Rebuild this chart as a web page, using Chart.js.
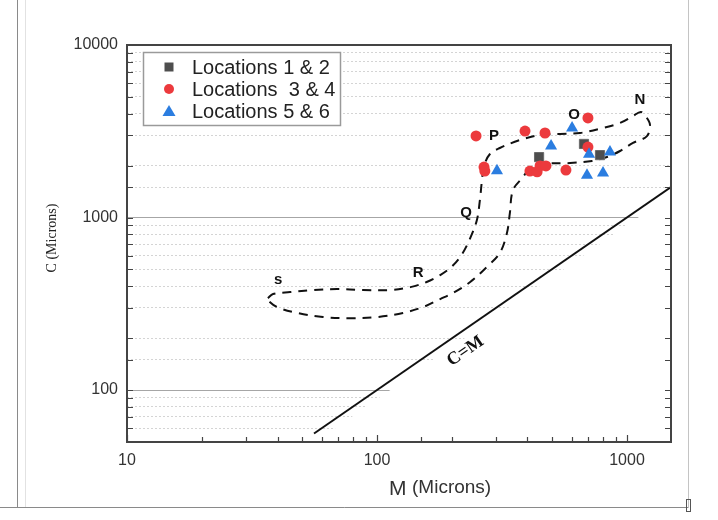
<!DOCTYPE html>
<html>
<head>
<meta charset="utf-8">
<script src="https://cdn.jsdelivr.net/npm/chart.js@4.4.0/dist/chart.umd.min.js"></script>
<style>
html, body { margin: 0; padding: 0; background: #fff; }
</style>
</head>
<body>
<canvas id="myChart" width="718" height="520"></canvas>
<script>
// values (M and C in microns)
const loc12X = [445, 673, 780];
const loc12Y = [2240, 2670, 2300];

const loc34X = [249, 391, 470, 698, 268, 270, 409, 437, 449, 474, 570, 698];
const loc34Y = [2970, 3170, 3090, 3780, 1960, 1860, 1860, 1840, 1990, 1990, 1885, 2560];

const loc56X = [302, 497, 603, 705, 855, 692, 802];
const loc56Y = [1870, 2600, 3300, 2330, 2400, 1760, 1810];

// dashed envelope S-R-Q-P-O-N and back
const envX = [36.6, 38.4, 44.9, 55.5, 69.2, 87.9, 113, 136, 158, 179, 200, 219, 236, 251, 258, 263, 268, 283, 310, 373, 449, 540, 649, 802, 938, 1057, 1138, 1202, 1236, 1202, 1057, 938, 832, 724, 592, 449, 409, 384, 350, 340, 331, 310, 275, 236, 201, 179, 153, 127, 100, 78, 60.8, 47.9, 39.8, 36.6, 36.6];
const envY = [341, 360, 370, 380, 385, 380, 380, 395, 423, 464, 523, 614, 760, 968, 1263, 1649, 1990, 2334, 2530, 2813, 3008, 3049, 3090, 3304, 3532, 3875, 4090, 3775, 3437, 2966, 2704, 2430, 2243, 2127, 2070, 2043, 1936, 1718, 1444, 1062, 813, 623, 517, 423, 365, 337, 303, 280, 265, 261, 265, 280, 303, 332, 341];

const cmX = [56, 1500];
const cmY = [56, 1500];

const letterText = ['N', 'O', 'P', 'Q', 'R', 's'];
const letterX = [1127, 614, 294, 227, 146, 40.2];
const letterY = [4800, 3930, 2967, 1062, 477, 434];

const xTickLabels = [10, 100, 1000];
const yTickLabels = [100, 1000, 10000];

const sans = "'Liberation Sans', Arial, sans-serif";
const serif = "'Liberation Serif', 'Times New Roman', serif";

function pts(xs, ys) {
    return xs.map((x, i) => ({ x: x, y: ys[i] }));
}

function isMajor(v, list) {
    return list.indexOf(Math.round(v)) >= 0;
}

const extras = {
    id: 'extras',
    beforeDatasetsDraw(chart) {
        // the grid is blank below / right of the C=M line
        const c = chart.ctx, a = chart.chartArea, x = chart.scales.x, y = chart.scales.y;
        c.save();
        c.beginPath();
        c.rect(a.left, a.top, a.right - a.left, a.bottom - a.top);
        c.clip();
        c.beginPath();
        c.moveTo(x.getPixelForValue(y.min) + 11, a.bottom + 2);
        c.lineTo(x.getPixelForValue(x.max) + 11, y.getPixelForValue(x.max));
        c.lineTo(a.right + 5, y.getPixelForValue(x.max));
        c.lineTo(a.right + 5, a.bottom + 2);
        c.closePath();
        c.fillStyle = '#fff';
        c.fill();
        c.restore();
    },
    afterDatasetsDraw(chart) {
        const c = chart.ctx, a = chart.chartArea, x = chart.scales.x, y = chart.scales.y;
        c.save();

        // frame
        c.strokeStyle = '#444';
        c.lineWidth = 2;
        c.strokeRect(a.left, a.top, a.right - a.left, a.bottom - a.top);

        // inward ticks
        c.lineWidth = 1.2;
        c.beginPath();
        y.ticks.forEach(t => {
            const py = Math.round(y.getPixelForValue(t.value)) + 0.5;
            c.moveTo(a.left, py); c.lineTo(a.left + 6, py);
            c.moveTo(a.right, py); c.lineTo(a.right - 6, py);
        });
        x.ticks.forEach(t => {
            if (t.value >= x.max) return;
            const px = Math.round(x.getPixelForValue(t.value)) + 0.5;
            const len = isMajor(t.value, xTickLabels) ? 7 : 5;
            c.moveTo(px, a.bottom); c.lineTo(px, a.bottom - len);
        });
        c.stroke();

        // letters along the envelope
        c.fillStyle = '#111';
        c.font = 'bold 15px ' + sans;
        c.textAlign = 'center';
        c.textBaseline = 'middle';
        letterText.forEach((s, i) => {
            c.fillText(s, x.getPixelForValue(letterX[i]), y.getPixelForValue(letterY[i]));
        });

        // C=M label
        const ang = Math.atan2(y.getPixelForValue(cmY[1]) - y.getPixelForValue(cmY[0]),
                               x.getPixelForValue(cmX[1]) - x.getPixelForValue(cmX[0]));
        c.save();
        c.translate(x.getPixelForValue(226), y.getPixelForValue(168));
        c.rotate(ang);
        c.font = 'bold 18px ' + serif;
        c.fillText('C=M', 0, 0);
        c.restore();

        // axis titles
        c.save();
        c.translate(52, 238);
        c.rotate(-Math.PI / 2);
        c.font = '14px ' + serif;
        c.fillStyle = '#222';
        c.fillText('C (Microns)', 0, 0);
        c.restore();

        c.fillStyle = '#333';
        c.textAlign = 'left';
        c.font = '21px ' + sans;
        c.fillText('M', 389, 489);
        c.font = '19px ' + sans;
        c.fillText('(Microns)', 412, 488);

        // legend
        c.fillStyle = '#fff';
        c.fillRect(143, 52, 197, 73);
        c.strokeStyle = '#9a9a9a';
        c.lineWidth = 1.5;
        c.strokeRect(143.5, 52.5, 197, 73);
        const ds = chart.data.datasets;
        const rows = [67, 89, 111];
        for (let i = 0; i < 3; i++) {
            const d = ds[i], cy = rows[i], cx = 169;
            c.fillStyle = d.backgroundColor;
            c.beginPath();
            if (d.pointStyle === 'rect') {
                c.rect(cx - 4.5, cy - 4.5, 9, 9);
            } else if (d.pointStyle === 'circle') {
                c.arc(cx, cy, 5, 0, Math.PI * 2);
            } else {
                c.moveTo(cx, cy - 6); c.lineTo(cx + 6.5, cy + 5); c.lineTo(cx - 6.5, cy + 5);
                c.closePath();
            }
            c.fill();
            c.fillStyle = '#222';
            c.font = '20px ' + sans;
            c.textBaseline = 'middle';
            c.fillText(d.label, 192, cy + 1);
        }

        // outer page frame of the original figure
        c.strokeStyle = '#8a8a8a';
        c.lineWidth = 1;
        c.beginPath();
        c.moveTo(17.5, 0); c.lineTo(17.5, 507.5);
        c.moveTo(0, 507.5); c.lineTo(688.5, 507.5);
        c.stroke();
        c.strokeStyle = '#c4c4c4';
        c.beginPath();
        c.moveTo(688.5, 0); c.lineTo(688.5, 507.5);
        c.stroke();
        c.strokeStyle = '#e2e2e2';
        c.beginPath();
        c.moveTo(25.5, 0); c.lineTo(25.5, 507);
        c.stroke();
        c.strokeStyle = '#555';
        c.strokeRect(686.5, 499.5, 4, 12);

        c.restore();
    }
};

const ctx = document.getElementById('myChart').getContext('2d');

const myChart = new Chart(ctx, {
    type: 'scatter',
    data: {
        datasets: [{
            label: 'Locations 1 & 2',
            data: pts(loc12X, loc12Y),
            pointStyle: 'rect',
            pointRadius: 6.5,
            backgroundColor: '#4e4e4e',
            borderColor: '#6a6a6a',
            borderWidth: 1,
            order: 3
        }, {
            label: 'Locations  3 & 4',
            data: pts(loc34X, loc34Y),
            pointStyle: 'circle',
            pointRadius: 5.5,
            backgroundColor: '#ec3a3d',
            borderColor: '#ec3a3d',
            borderWidth: 0,
            order: 2
        }, {
            label: 'Locations 5 & 6',
            data: pts(loc56X, loc56Y),
            pointStyle: 'triangle',
            pointRadius: 7,
            backgroundColor: '#2b7de0',
            borderColor: '#2b7de0',
            borderWidth: 0,
            order: 1
        }, {
            type: 'line',
            label: 'envelope',
            data: pts(envX, envY),
            borderColor: '#111',
            borderWidth: 2,
            borderDash: [9, 7],
            pointRadius: 0,
            tension: 0.35,
            fill: false,
            order: 4
        }, {
            type: 'line',
            label: 'C=M',
            data: pts(cmX, cmY),
            borderColor: '#111',
            borderWidth: 2,
            pointRadius: 0,
            fill: false,
            order: 5
        }]
    },
    options: {
        responsive: false,
        animation: false,
        events: [],
        layout: { padding: { left: 0, right: 47, top: 45, bottom: 0 } },
        plugins: { legend: { display: false }, tooltip: { enabled: false } },
        scales: {
            x: {
                type: 'logarithmic',
                min: 10,
                max: 1500,
                grid: { display: false, drawTicks: false },
                border: { display: false },
                ticks: {
                    autoSkip: false,
                    maxRotation: 0,
                    padding: 9,
                    color: '#333',
                    font: { family: sans, size: 16 },
                    callback: v => isMajor(v, xTickLabels) ? String(Math.round(v)) : ''
                },
                afterFit: s => { s.height = 78; }
            },
            y: {
                type: 'logarithmic',
                min: 50,
                max: 10000,
                grid: {
                    drawTicks: false,
                    lineWidth: 1,
                    color: c => isMajor(c.tick.value, yTickLabels) ? '#a6a6a6' : '#d4d4d4'
                },
                border: {
                    display: false,
                    dash: c => isMajor(c.tick.value, yTickLabels) ? [] : [2, 2]
                },
                ticks: {
                    autoSkip: false,
                    padding: 9,
                    color: '#333',
                    font: { family: sans, size: 16 },
                    callback: v => isMajor(v, yTickLabels) ? String(Math.round(v)) : ''
                },
                afterFit: s => { s.width = 127; }
            }
        }
    },
    plugins: [extras]
});
</script>
</body>
</html>
